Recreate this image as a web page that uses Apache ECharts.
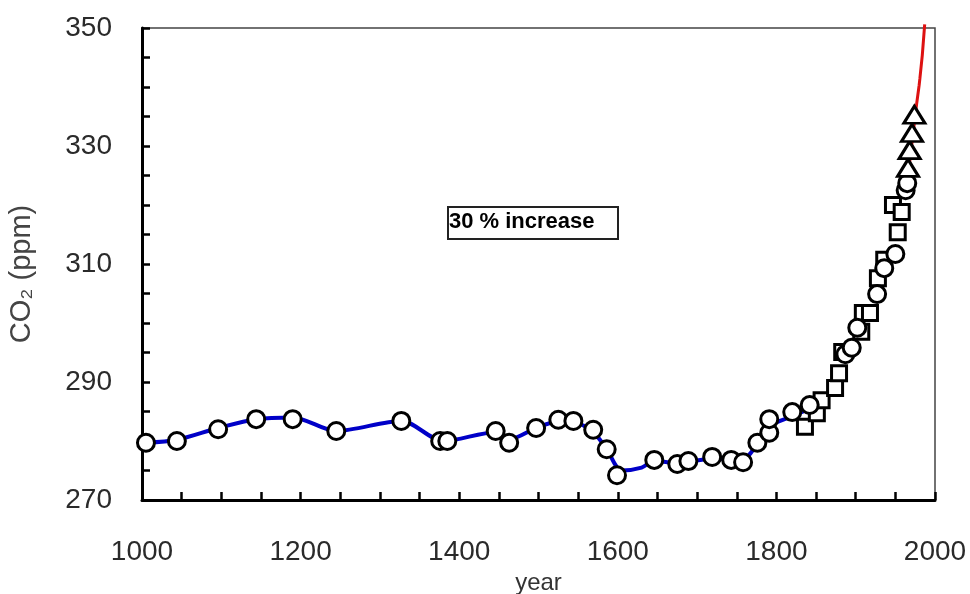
<!DOCTYPE html>
<html>
<head>
<meta charset="utf-8">
<script src="https://cdn.jsdelivr.net/npm/echarts@6/dist/echarts.min.js"></script>
<style>
html,body{margin:0;padding:0;background:#fff;}
#chart{width:970px;height:594px;}
</style>
</head>
<body>
<div id="chart"></div>
<script>
// Ice-core smoothed curve (blue line)
var splineYears  = [1005, 1044, 1096, 1144, 1190, 1245, 1327, 1380, 1446, 1463, 1497, 1525, 1544, 1569, 1586, 1605, 1630, 1646, 1675, 1719, 1758, 1776, 1791, 1820, 1842];
var splineValues = [279.7, 280.2, 282.2, 283.7, 284.0, 281.7, 283.4, 280.0, 281.5, 280.3, 282.2, 283.3, 283.2, 281.5, 278.6, 275.0, 275.5, 276.6, 276.3, 277.0, 277.0, 279.5, 282.5, 284.2, 285.5];

// Circle markers
var circleYears  = [1005, 1044, 1096, 1144, 1190, 1245, 1327, 1376, 1385, 1446, 1463, 1497, 1525, 1544, 1569, 1586, 1599, 1646, 1675, 1689, 1719, 1743, 1758, 1776, 1791, 1791, 1820, 1842, 1887, 1895, 1902, 1927, 1936, 1950, 1963, 1965];
var circleValues = [279.7, 280.0, 282.0, 283.7, 283.7, 281.7, 283.4, 280.0, 280.0, 281.7, 279.7, 282.2, 283.6, 283.4, 281.9, 278.6, 274.2, 276.8, 276.1, 276.6, 277.3, 276.8, 276.4, 279.7, 281.4, 283.7, 284.9, 286.1, 294.7, 295.8, 299.2, 304.9, 309.3, 311.7, 322.5, 323.7];

// Square markers
var squareYears  = [1836, 1851, 1857, 1874, 1879, 1883, 1907, 1909, 1918, 1928, 1936, 1947, 1953, 1958];
var squareValues = [282.4, 284.7, 286.9, 289.0, 291.5, 295.1, 298.5, 301.7, 301.7, 307.6, 310.7, 320.0, 315.4, 318.8];

// Triangle markers
var triangleYears  = [1966, 1968, 1971, 1974];
var triangleValues = [326.3, 329.3, 332.2, 335.3];

// Red line (direct measurements)
var redYears  = [1966, 1977, 1980, 1981, 1984, 1987];
var redValues = [325.0, 337.3, 340.3, 341.5, 345.4, 350.6];

var xLabelValues = [1000, 1200, 1400, 1600, 1800, 2000];
var yLabelValues = [270, 290, 310, 330, 350];

function pairs(xs, ys){ return xs.map(function(x,i){ return [x, ys[i]]; }); }

var chart = echarts.init(document.getElementById('chart'), null, {renderer:'canvas'});
var fontFam = '"Liberation Sans", Arial, sans-serif';
chart.setOption({
  animation:false,
  backgroundColor:'#fff',
  grid:{left:142, right:35, top:28, bottom:94, outerBoundsMode:'none', containLabel:false,
        show:true, borderColor:'#444', borderWidth:1.5, backgroundColor:'transparent'},
  xAxis:{
    type:'value', min:1000, max:2000, interval:50,
    name:'year', nameLocation:'middle', nameGap:62,
    nameTextStyle:{fontFamily:fontFam, fontSize:24, color:'#333'},
    axisLine:{show:true, onZero:false, lineStyle:{color:'#000', width:3}},
    axisTick:{show:true, inside:true, length:8, lineStyle:{color:'#000', width:2.5}},
    axisLabel:{margin:38, fontFamily:fontFam, fontSize:28, color:'#2a2a2a',
      formatter:function(v){ return xLabelValues.indexOf(v) >= 0 ? String(v) : ''; }},
    splitLine:{show:false}
  },
  yAxis:{
    type:'value', min:270, max:350, interval:5,
    axisLine:{show:true, onZero:false, lineStyle:{color:'#000', width:3}},
    axisTick:{show:true, inside:true, length:8, lineStyle:{color:'#000', width:2.5}},
    axisLabel:{margin:30, fontFamily:fontFam, fontSize:28, color:'#2a2a2a',
      formatter:function(v){ return yLabelValues.indexOf(v) >= 0 ? String(v) : ''; }},
    splitLine:{show:false}
  },
  series:[
    {type:'line', data:pairs(splineYears, splineValues), symbol:'none', smooth:0.3,
     lineStyle:{color:'#0000c8', width:4}, z:2},
    {type:'line', data:pairs(redYears, redValues), symbol:'none', clip:false,
     lineStyle:{color:'#dd1111', width:3}, z:3},
    {type:'scatter', data:pairs(squareYears, squareValues), symbol:'rect', symbolSize:15,
     itemStyle:{color:'#fff', borderColor:'#000', borderWidth:3, opacity:1}, z:4},
    {type:'scatter', data:pairs(circleYears, circleValues), symbol:'circle', symbolSize:17,
     itemStyle:{color:'#fff', borderColor:'#000', borderWidth:3, opacity:1}, z:5},
    {type:'scatter', data:pairs(triangleYears, triangleValues), symbol:'triangle', symbolSize:[21,17],
     itemStyle:{color:'#fff', borderColor:'#000', borderWidth:3, opacity:1}, z:6}
  ],
  graphic:[
    {type:'text', x:22, y:274, rotation:Math.PI/2,
     style:{text:'CO\u2082 (ppm)', fill:'#444', align:'center', verticalAlign:'middle',
            font:'29px "Liberation Sans", Arial, sans-serif'}, z:11},
    {type:'rect', left:447, top:206, shape:{width:170, height:32},
     style:{fill:'#fff', stroke:'#222', lineWidth:2}, z:10},
    {type:'text', left:449, top:211, style:{text:'30 % increase', fill:'#000',
     font:'bold 22px "Liberation Sans", Arial, sans-serif'}, z:11}
  ]
});
</script>
</body>
</html>
